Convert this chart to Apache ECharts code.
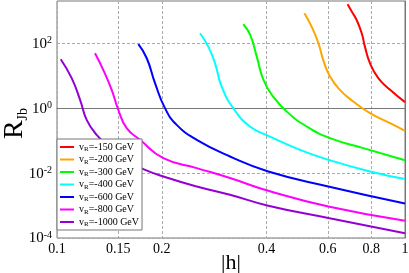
<!DOCTYPE html>
<html><head><meta charset="utf-8">
<script src="https://cdn.jsdelivr.net/npm/echarts@6/dist/echarts.min.js"></script>
<style>html,body{margin:0;padding:0;background:#fff}#c{width:409px;height:273px}</style>
</head><body><div id="c"></div>
<script>
// tick labels
const xTicks = [0.1, 0.15, 0.2, 0.4, 0.6, 0.8, 1];
const yTicks = [1e-4, 1e-2, 1, 100];
const xRange = [0.1, 1];
const yRange = [1e-4, 2000];
// series labels and colours
const vR = [-150, -200, -300, -400, -600, -800, -1000];
const colors = ['#ff0000', '#ffa500', '#00ff00', '#00ffff', '#0000ff', '#ff00ff', '#9400d3'];
// |h| values and R_Jb values per series
const h150 = [0.684, 0.705, 0.726, 0.751, 0.767, 0.793, 0.838, 0.906, 1.0];
const r150 = [1585, 900, 521, 203, 78.6, 24.3, 8.38, 3.66, 1.53];
const h200 = [0.514, 0.539, 0.564, 0.582, 0.609, 0.650, 0.710, 0.793, 0.906, 1.0];
const r200 = [837, 324, 100, 30.6, 9.38, 3.66, 1.60, 0.702, 0.345, 0.200];
const h300 = [0.343, 0.359, 0.375, 0.392, 0.418, 0.457, 0.522, 0.609, 0.759, 1.0];
const r300 = [384, 180, 38.7, 7.43, 2.27, 0.786, 0.272, 0.119, 0.0588, 0.0248];
const h400 = [0.2576, 0.2721, 0.2844, 0.2973, 0.321, 0.3586, 0.4047, 0.4993, 0.602, 0.793, 1.0];
const r400 = [203, 78.6, 24.3, 4.62, 1.0, 0.272, 0.1405, 0.0521, 0.0257, 0.0112, 0.00654];
const h600 = [0.1713, 0.1811, 0.1913, 0.2043, 0.2208, 0.2521, 0.3141, 0.4047, 0.602, 1.0];
const r600 = [93.1, 34.5, 5.88, 1.0, 0.306, 0.106, 0.0324, 0.0112, 0.00387, 0.00115];
const h800 = [0.1286, 0.1358, 0.1436, 0.150, 0.1586, 0.1732, 0.2021, 0.2521, 0.3141, 0.4047, 0.602, 1.0];
const r800 = [49.3, 15.1, 3.66, 0.887, 0.2425, 0.106, 0.029, 0.01425, 0.00702, 0.00285, 0.000938, 0.00034];
const h1000 = [0.1025, 0.1102, 0.1165, 0.1217, 0.130, 0.145, 0.16, 0.177, 0.2021, 0.2521, 0.3141, 0.4047, 0.602, 1.0];
const r1000 = [32.2, 8.38, 1.80, 0.436, 0.151, 0.048, 0.023, 0.01328, 0.00786, 0.00387, 0.00215, 0.000986, 0.000412, 0.000141];

const hs = [h150, h200, h300, h400, h600, h800, h1000];
const rs = [r150, r200, r300, r400, r600, r800, r1000];
const FONT = 'Liberation Serif';
const lg = Math.log10;

// both axes are logarithmic: the value axes work on log10 of the data
const series = vR.map((v, i) => ({
  name: 'vR=' + v + ' GeV',
  type: 'line',
  data: hs[i].map((h, j) => [lg(h), lg(rs[i][j])]),
  smooth: 0.5,
  showSymbol: false,
  symbol: 'none',
  lineStyle: { color: colors[i], width: 2 },
  itemStyle: { color: colors[i] },
  animation: false
}));

const grid = { color: '#aaa', type: [3, 2], width: 1 };
const chart = echarts.init(document.getElementById('c'));
chart.setOption({
  animation: false,
  backgroundColor: '#fff',
  grid: { left: 57, right: 4, top: 1, bottom: 35, containLabel: false, outerBoundsMode: 'none',
    show: true, borderColor: '#777', borderWidth: 1, backgroundColor: 'transparent' },
  legend: {
    orient: 'vertical', left: 57, top: 139,
    backgroundColor: '#fff', borderColor: '#777', borderWidth: 1,
    padding: [3, 3, 2, 3], itemGap: 1.5, itemWidth: 14, itemHeight: 2, icon: 'rect',
    selectedMode: false,
    formatter: name => '{n|v}{s|R}{n|' + name.slice(2) + '}',
    textStyle: {
      fontFamily: FONT, fontSize: 10, color: '#000',
      rich: {
        n: { fontFamily: FONT, fontSize: 10, lineHeight: 12, color: '#000' },
        s: { fontFamily: FONT, fontSize: 7, lineHeight: 7, verticalAlign: 'bottom', color: '#000' }
      }
    }
  },
  xAxis: {
    type: 'value', min: lg(xRange[0]), max: lg(xRange[1]),
    name: '|h|', nameLocation: 'middle', nameGap: 14, nameMoveOverlap: false,
    nameTextStyle: { fontFamily: FONT, fontSize: 22, color: '#000' },
    axisLine: { show: true, lineStyle: { color: '#777' } },
    axisTick: { show: false, customValues: xTicks.map(lg) },
    axisLabel: { customValues: xTicks.map(lg), fontFamily: FONT, fontSize: 14, color: '#000', margin: 4,
      hideOverlap: false,
      formatter: v => String(Math.round(Math.pow(10, v) * 100) / 100) },
    splitLine: { show: true, lineStyle: grid }
  },
  yAxis: {
    type: 'value', min: lg(yRange[0]), max: lg(yRange[1]),
    name: '{r|R}{s|Jb}', nameLocation: 'middle', nameGap: 27, nameMoveOverlap: false,
    nameTextStyle: {
      color: '#000', padding: [0, 8, 0, 0],
      rich: {
        r: { fontFamily: FONT, fontSize: 28, lineHeight: 30, color: '#000' },
        s: { fontFamily: FONT, fontSize: 14, lineHeight: 14, verticalAlign: 'bottom', color: '#000' }
      }
    },
    axisLine: { show: true, lineStyle: { color: '#777' } },
    axisTick: { show: false, customValues: yTicks.map(lg) },
    axisLabel: {
      customValues: yTicks.map(lg),
      margin: 5, hideOverlap: false,
      formatter: v => '{b|10}{p|' + Math.round(v) + '}',
      rich: {
        b: { fontFamily: FONT, fontSize: 15, lineHeight: 16, verticalAlign: 'bottom', color: '#000' },
        p: { fontFamily: FONT, fontSize: 10, lineHeight: 16, padding: [0, 0, 6, 0], verticalAlign: 'top', color: '#000' }
      }
    },
    splitLine: { show: true, lineStyle: grid }
  },
  series: series
});
</script>
</body></html>
